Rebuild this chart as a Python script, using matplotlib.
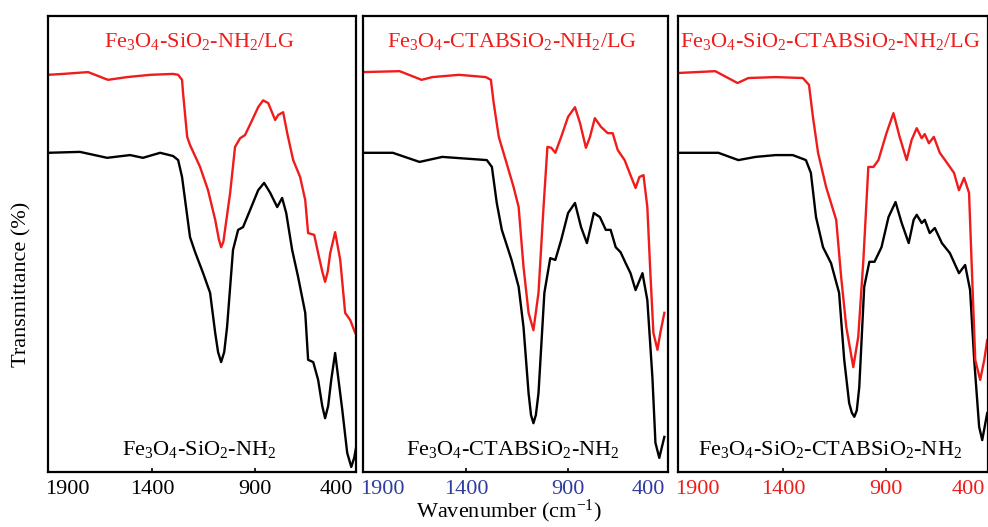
import matplotlib.pyplot as plt

plt.rcParams['font.family'] = ['Liberation Serif', 'DejaVu Serif']
plt.rcParams['mathtext.fontset'] = 'custom'
plt.rcParams['mathtext.rm'] = 'Liberation Serif'
plt.rcParams['mathtext.it'] = 'Liberation Serif:italic'

# panel 1 : Fe3O4-SiO2-NH2 (black) and /LG (red)
wn_p1_lg = [1910, 1837, 1714, 1617, 1524, 1411, 1299, 1274, 1255, 1250, 1230, 1216, 1167, 1128,
            1093, 1075, 1064, 1053, 1045, 1020, 996, 971, 947, 912, 883, 859, 834, 800, 785, 761, 741, 712,
            678, 653, 639, 609, 590, 570, 556, 543, 531, 507, 482, 458, 433, 409]
t_p1_lg = [87.1, 87.3, 87.7, 86.0, 86.6, 87.1, 87.3, 87.1, 86.0, 83.1, 73.5, 71.7, 66.9, 61.8,
           55.3, 51.0, 49.3, 50.5, 53.1, 61.2, 71.3, 73.2, 73.9, 77.2, 80.0, 81.5, 80.9, 77.2, 78.3, 78.9, 74.3, 68.4,
           64.7, 59.6, 52.4, 52.0, 48.0, 44.0, 41.7, 44.0, 48.0, 52.6, 46.5, 34.9, 33.3, 30.5]
wn_p1 = [1910, 1754, 1621, 1509, 1446, 1362, 1299, 1274, 1255, 1240, 1216, 1191, 1152, 1118,
         1093, 1079, 1064, 1049, 1035, 1006, 981, 957, 922, 883, 854, 824, 790, 766, 746, 717, 688, 653,
         639, 614, 590, 570, 556, 541, 526, 507, 472, 448, 428, 414, 404]
t_p1 = [70.0, 70.2, 68.9, 69.5, 68.9, 70.0, 69.3, 68.4, 64.7, 59.6, 51.5, 48.2, 43.6, 39.3,
        30.5, 26.3, 24.1, 26.3, 31.8, 48.7, 53.1, 53.7, 57.5, 61.8, 63.4, 61.2, 58.1, 60.1, 56.8, 48.7, 42.8, 34.9,
        24.6, 24.1, 20.2, 14.5, 11.8, 14.5, 20.2, 26.1, 13.6, 4.2, 1.1, 3.1, 5.5]

# panel 2 : Fe3O4-CTABSiO2-NH2
wn_p2_lg = [1910, 1729, 1621, 1568, 1436, 1304, 1279, 1265, 1240, 1206, 1167, 1142, 1118, 1093,
            1069, 1044, 1020, 1000, 981, 961, 932, 898, 864, 839, 810, 790, 766, 736, 702, 678,
            653, 619, 590, 565, 546, 526, 507, 492, 477, 457, 443, 423]
t_p2_lg = [87.7, 87.9, 86.0, 86.6, 87.1, 86.6, 86.0, 80.9, 73.5, 68.4, 62.5, 58.1, 45.0, 34.9,
           31.1, 39.3, 57.5, 71.3, 71.1, 70.0, 73.5, 77.9, 80.0, 76.5, 71.1, 73.5, 77.6, 75.7, 74.3, 74.3,
           70.6, 68.4, 65.1, 62.3, 64.7, 65.1, 58.1, 43.6, 30.5, 26.8, 30.5, 34.9]
wn_p2 = [1910, 1763, 1631, 1519, 1299, 1274, 1250, 1225, 1177, 1142, 1118, 1093, 1081, 1069, 1057, 1044,
         1015, 986, 961, 932, 898, 864, 834, 805, 790, 771, 741, 712, 688, 663, 639, 614,
         590, 565, 531, 507, 482, 467, 448, 423]
t_p2 = [70.0, 70.0, 68.0, 69.1, 68.4, 66.9, 59.0, 53.1, 46.5, 40.6, 31.8, 17.3, 12.5, 10.7, 12.5, 17.3,
        39.3, 46.9, 46.5, 50.9, 56.8, 59.0, 53.7, 50.2, 53.1, 56.8, 55.9, 53.1, 53.1, 49.3, 48.2, 45.8,
        43.6, 39.9, 43.6, 37.7, 20.8, 6.4, 3.1, 7.7]

# panel 3 : Fe3O4-SiO2-CTABSiO2-NH2
wn_p3_lg = [1910, 1729, 1621, 1568, 1436, 1304, 1274, 1255, 1230, 1191, 1142, 1118, 1093, 1059,
            1035, 1010, 986, 961, 937, 898, 864, 834, 800, 776, 751, 727, 712, 692, 668, 639,
            604, 570, 546, 521, 497, 482, 467, 443, 423, 409]
t_p3_lg = [87.5, 87.9, 85.3, 86.4, 86.6, 86.4, 84.9, 77.9, 70.0, 62.5, 55.3, 42.8, 31.8, 23.0,
           29.6, 46.5, 66.9, 66.9, 68.4, 74.3, 78.7, 73.5, 68.4, 72.8, 75.4, 73.2, 74.1, 72.1, 73.5, 70.0,
           67.8, 65.6, 61.8, 64.5, 61.2, 42.8, 24.6, 20.2, 24.6, 28.9]
wn_p3 = [1910, 1714, 1617, 1533, 1436, 1353, 1289, 1265, 1240, 1206, 1167, 1128, 1103, 1079,
         1066, 1054, 1042, 1030, 1006, 981, 956, 922, 888, 854, 824, 790, 766, 751, 727, 712, 688, 663,
         629, 590, 546, 516, 492, 472, 448, 433, 409]
t_p3 = [70.0, 70.0, 68.4, 69.1, 69.5, 69.5, 68.4, 65.6, 55.9, 49.3, 45.8, 39.3, 24.6, 15.1,
        13.0, 12.1, 13.5, 18.6, 40.6, 46.1, 46.1, 49.3, 55.9, 59.2, 54.6, 50.2, 55.3, 56.4, 54.6, 55.3, 52.4, 53.5,
        50.2, 48.0, 43.6, 45.4, 39.9, 24.6, 9.9, 7.0, 12.9]

top_labels = [r'Fe$_3$O$_4$-SiO$_2$-NH$_2$/LG',
              r'Fe$_3$O$_4$-CTABSiO$_2$-NH$_2$/LG',
              r'Fe$_3$O$_4$-SiO$_2$-CTABSiO$_2$-NH$_2$/LG']
bottom_labels = [r'Fe$_3$O$_4$-SiO$_2$-NH$_2$',
                 r'Fe$_3$O$_4$-CTABSiO$_2$-NH$_2$',
                 r'Fe$_3$O$_4$-SiO$_2$-CTABSiO$_2$-NH$_2$']
tick_labels = ['1900', '1400', '900', '400']
tick_pos = [1815, 1400, 900, 500]
tick_colors = ['black', '#2f3d9e', '#f01c1c']

red = '#f01c1c'
panels = [(wn_p1, t_p1, wn_p1_lg, t_p1_lg),
          (wn_p2, t_p2, wn_p2_lg, t_p2_lg),
          (wn_p3, t_p3, wn_p3_lg, t_p3_lg)]
lefts = [48, 363, 678]
widths = [308, 305, 310]

fig = plt.figure(figsize=(9.88, 5.27), dpi=100)
for i, (wn, t, wn_lg, t_lg) in enumerate(panels):
    ax = fig.add_axes([lefts[i] / 988, 55 / 527, widths[i] / 988, 456 / 527])
    ax.plot(wn, t, color='black', lw=1.7)
    ax.plot(wn_lg, t_lg, color=red, lw=1.7)
    ax.set_xlim(1910, 405)
    ax.set_ylim(0, 100)
    ax.set_yticks([])
    ax.set_xticks(tick_pos)
    ax.set_xticklabels(tick_labels, color=tick_colors[i], fontsize=16)
    ax.tick_params(axis='x', direction='in', length=3, width=1.2, pad=6)
    ticks = ax.xaxis.get_major_ticks()
    ticks[0].tick1line.set_visible(False)
    ticks[-1].tick1line.set_visible(False)
    for s in ax.spines.values():
        s.set_linewidth(1.6)
    ax.text(0.49, 0.945, top_labels[i], transform=ax.transAxes, color=red,
            fontsize=16, ha='center', va='center')
    ax.text(0.49, 0.05, bottom_labels[i], transform=ax.transAxes, color='black',
            fontsize=16, ha='center', va='center')

fig.text(0.022, 0.46, 'Transmittance (%)', rotation=90, fontsize=16, ha='center', va='center')
fig.text(0.515, 0.004, r'Wavenumber (cm$^{-1}$)', fontsize=16, ha='center', va='bottom')

fig.savefig('out.png', dpi=100)
